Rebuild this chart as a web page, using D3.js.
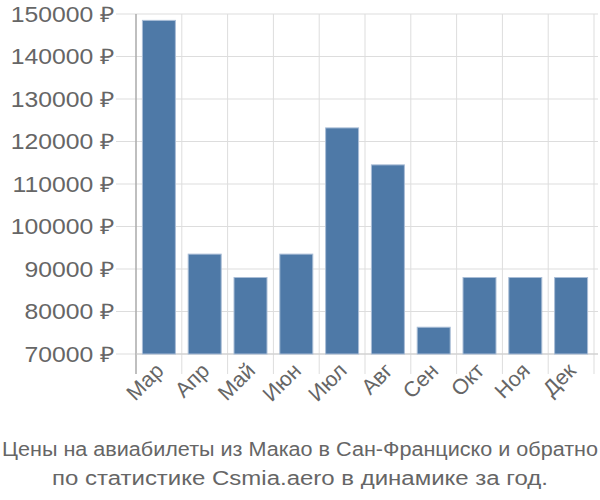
<!DOCTYPE html>
<html><head><meta charset="utf-8">
<script src="https://cdn.jsdelivr.net/npm/d3@7"></script>
<style>body{margin:0;background:#fff}svg{display:block}</style>
</head><body><svg id="c" width="600" height="500"></svg>
<script>
const categories = ["Мар","Апр","Май","Июн","Июл","Авг","Сен","Окт","Ноя","Дек"];
const values = [148500, 93500, 88000, 93500, 123200, 114500, 76300, 88000, 88000, 88000];
const yTicks = [70000, 80000, 90000, 100000, 110000, 120000, 130000, 140000, 150000];
const titleLines = ["Цены на авиабилеты из Макао в Сан-Франциско и обратно","по статистике Csmia.aero в динамике за год."];

(function(){
const svg = d3.select("#c");
const pL = 136, pR = 594, pT = 14, pB = 354;
const x = d3.scaleBand().domain(categories).range([pL, pR]).paddingInner(0.28).paddingOuter(0.14);
const y = d3.scaleLinear().domain([70000, 150000]).range([pB, pT]);
const font = "'Liberation Sans', Arial, sans-serif";
const grid = "#dddddd";

svg.append("g").selectAll("line").data(yTicks).join("line")
  .attr("x1", 116).attr("x2", 598).attr("y1", d => y(d)).attr("y2", d => y(d))
  .attr("stroke", grid).attr("stroke-width", 1);
const n = categories.length;
svg.append("g").selectAll("line").data(d3.range(n+1)).join("line")
  .attr("x1", i => pL + i*(pR-pL)/n).attr("x2", i => pL + i*(pR-pL)/n)
  .attr("y1", pT).attr("y2", 374)
  .attr("stroke", (d,i) => i===0 ? "#aaaaaa" : grid).attr("stroke-width", (d,i)=> i===0?1.5:1);
svg.append("line").attr("x1", pL).attr("x2", 598).attr("y1", pB).attr("y2", pB)
  .attr("stroke", "#cccccc");

svg.append("g").selectAll("rect").data(values).join("rect")
  .attr("x", (d,i) => x(categories[i])).attr("width", x.bandwidth())
  .attr("y", d => y(d)).attr("height", d => pB - y(d))
  .attr("fill", "#4e79a7").attr("stroke", "#a9bdd6").attr("stroke-width", 1);

svg.append("g").attr("transform", "translate(114,0) scale(1.15,1)")
  .selectAll("text").data(yTicks).join("text")
  .attr("x", 0).attr("y", d => y(d)).attr("dy", "0.35em")
  .attr("text-anchor", "end").attr("font-family", font).attr("font-size", 21.5)
  .attr("fill", "#666").text(d => d + " ₽");

svg.append("g").selectAll("text").data(categories).join("text")
  .attr("transform", d => `translate(${x(d)+x.bandwidth()/2+6},${pB+18}) rotate(-45)`)
  .attr("text-anchor", "end").attr("font-family", font).attr("font-size", 21.5)
  .attr("fill", "#666").text(d => d);

const titleWidths = [596, 496];
svg.append("g").selectAll("text").data(titleLines).join("text")
  .attr("x", 300).attr("y", (d,i) => 456 + i*28.5)
  .attr("text-anchor", "middle").attr("font-family", font).attr("font-size", 19.5)
  .attr("textLength", (d,i) => titleWidths[i]).attr("lengthAdjust", "spacingAndGlyphs")
  .attr("fill", "#666").text(d => d);
})();
</script></body></html>
